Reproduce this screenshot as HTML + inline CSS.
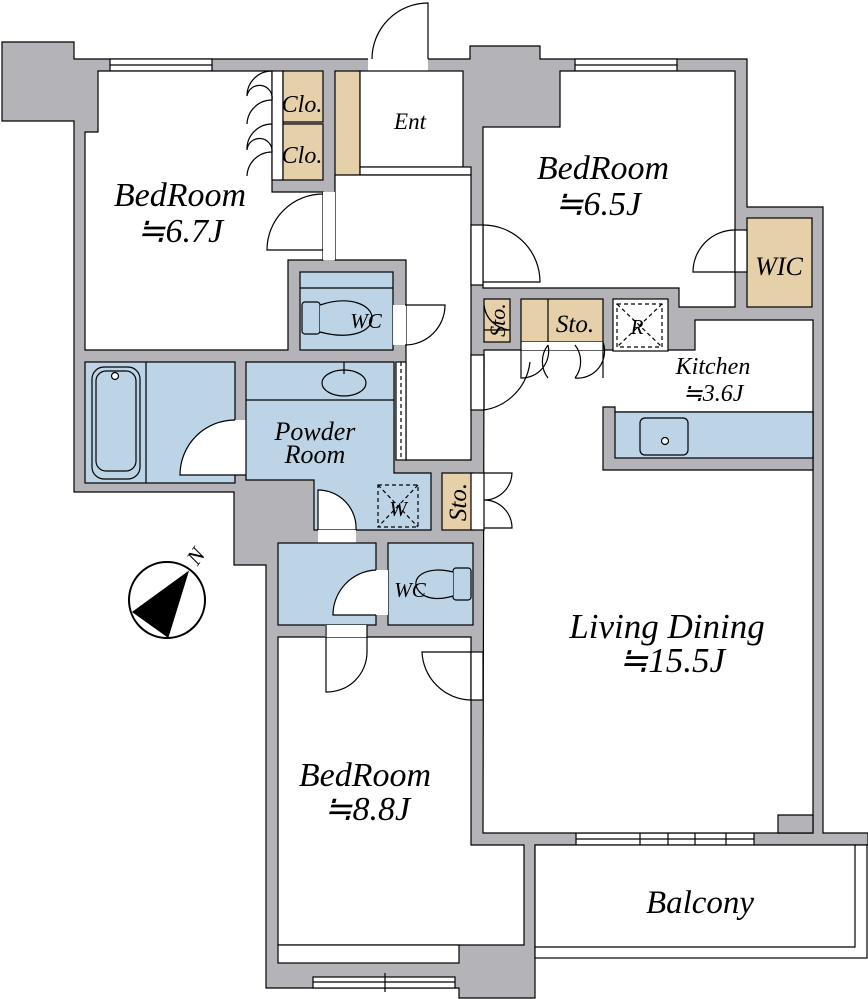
<!DOCTYPE html>
<html><head><meta charset="utf-8"><style>
html,body{margin:0;padding:0;background:#fff;}
svg{display:block;}
text{font-family:"Liberation Serif",serif;font-style:italic;fill:#000;}
</style></head><body>
<svg width="868" height="999" viewBox="0 0 868 999" xmlns="http://www.w3.org/2000/svg">
<g stroke="#000" stroke-width="1.2">
<polygon fill="#b4b3b8" points="2,42 74,42 74,59 470,59 470,46 540,46 540,59 747,59 747,207 823,207 823,833 868,833 868,845 535,845 535,998 459,998 459,988 266,988 266,565 234,565 234,492 74,492 74,121 2,121"/>
<rect x="110" y="59" width="102" height="12" fill="#fff"/><line x1="110" y1="65" x2="212" y2="65"/>
<rect x="575" y="59" width="102" height="12" fill="#fff"/><line x1="575" y1="65" x2="677" y2="65"/>
<rect x="576" y="833" width="178" height="12" fill="#fff"/><line x1="576" y1="839" x2="754" y2="839"/><line x1="640" y1="833" x2="640" y2="845"/><line x1="695" y1="833" x2="695" y2="845"/>
<line x1="668" y1="830" x2="668" y2="848"/><line x1="726" y1="830" x2="726" y2="848"/>
<rect x="313" y="977" width="142" height="11" fill="#fff"/><line x1="313" y1="982" x2="455" y2="982"/><line x1="385" y1="973" x2="385" y2="992"/>
<rect x="368" y="58" width="60" height="13" fill="#fff" stroke="none"/>
<path d="M372,59 A56,56 0 0 1 428,3 L428,59" fill="none"/>
<polygon fill="#fff" points="98,71 272,71 272,192 323,192 323,260 288,260 288,350 85,350 85,132 98,132"/>
<rect x="272" y="71" width="11" height="109" fill="#fff"/>
<rect x="283" y="71" width="40" height="51" fill="#e6d0aa"/>
<rect x="283" y="124" width="40" height="56" fill="#e6d0aa"/>
<path d="M272,71 A25,25 0 0 0 247,96 A10,10 0 0 1 272,100 A25,25 0 0 0 247,124 M272,124 A25,25 0 0 0 247,150 A10,10 0 0 1 272,152 A25,25 0 0 0 247,176" fill="none"/>
<rect x="335" y="71" width="25" height="118" fill="#e6d0aa"/>
<rect x="360" y="71" width="103" height="96" fill="#fff"/>
<rect x="360" y="167" width="111" height="8" fill="#fff"/>
<polygon fill="#fff" points="335,175 471,175 471,460 406,460 406,260 335,260"/>
<rect x="323" y="192" width="12" height="68" fill="#fff" stroke="none"/>
<path d="M323,194 A56,56 0 0 0 267,250 L323,250" fill="none"/>
<rect x="300" y="272" width="93" height="78" fill="#bcd4e6"/>
<line x1="300" y1="288" x2="393" y2="288"/>
<rect x="302" y="302" width="18" height="32" rx="3" fill="#bcd4e6"/>
<path d="M320,305 C350,295 372,305 372,318 C372,332 350,340 320,332" fill="#bcd4e6"/>
<rect x="393" y="305" width="13" height="40" fill="#fff" stroke="none"/>
<path d="M405,305 L445,305 A40,40 0 0 1 405,345" fill="none"/>
<rect x="85" y="362" width="150" height="121" fill="#bcd4e6"/>
<line x1="146" y1="362" x2="146" y2="483"/>
<rect x="92" y="367" width="48" height="112" rx="12" fill="#bcd4e6"/>
<rect x="96" y="371" width="40" height="100" rx="10" fill="#bcd4e6"/>
<circle cx="115" cy="376" r="3.5" fill="#fff"/>
<rect x="235" y="420" width="12" height="55" fill="#fff" stroke="none"/>
<path d="M235,420 A55,55 0 0 0 180,475 L247,475" fill="#fff"/>
<polygon fill="#bcd4e6" points="246,362 394,362 394,473 431,473 431,530 314,530 314,480 246,480"/>
<line x1="246" y1="400" x2="394" y2="400"/>
<ellipse cx="344" cy="383" rx="22" ry="13" fill="#bcd4e6"/>
<line x1="344" y1="362" x2="344" y2="374"/>
<rect x="396" y="362" width="10" height="98" fill="#fff"/>
<line x1="401" y1="362" x2="401" y2="460" stroke-dasharray="4,3"/>
<rect x="378" y="485" width="40" height="42" fill="#bcd4e6" stroke-dasharray="4,3"/>
<line x1="378" y1="485" x2="418" y2="527" stroke-dasharray="4,3"/><line x1="418" y1="485" x2="378" y2="527" stroke-dasharray="4,3"/>
<rect x="442" y="473" width="31" height="57" fill="#e6d0aa"/>
<path d="M318,490 A38,38 0 0 1 356,530 L318,530 Z" fill="#fff"/>
<rect x="318" y="530" width="38" height="13" fill="#fff" stroke="none"/>
<rect x="278" y="543" width="98" height="82" fill="#bcd4e6"/>
<rect x="388" y="543" width="85" height="82" fill="#bcd4e6"/>
<path d="M376,570 A45,45 0 0 0 333,615 L376,615" fill="#fff"/>
<rect x="376" y="570" width="12" height="45" fill="#fff" stroke="none"/>
<rect x="453" y="568" width="18" height="32" rx="3" fill="#bcd4e6"/>
<path d="M453,572 C425,565 410,578 418,590 C425,600 440,600 453,596" fill="#bcd4e6"/>
<polygon fill="#fff" points="278,637 471,637 471,845 524,845 524,945 278,945"/>
<rect x="278" y="945" width="181" height="18" fill="#fff"/>
<rect x="325" y="625" width="42" height="12" fill="#fff" stroke="none"/>
<path d="M326,625 L326,692 A40,40 0 0 0 367,652 L367,625" fill="none"/>
<path d="M471,652 L422,652 A50,50 0 0 0 471,700" fill="none"/>
<rect x="471" y="652" width="12" height="48" fill="#fff"/>
<polygon fill="#fff" points="560,71 735,71 735,307 679,307 679,288 483,288 483,127 560,127"/>
<rect x="747" y="218" width="65" height="89" fill="#e6d0aa"/>
<rect x="735" y="230" width="12" height="42" fill="#fff"/>
<path d="M735,230 A42,42 0 0 0 693,272 L735,272" fill="none"/>
<rect x="471" y="225" width="12" height="60" fill="#fff"/>
<path d="M483,225 A57,57 0 0 1 540,282 L483,282" fill="none"/>
<polygon fill="#fff" points="484,350 695,350 695,320 813,320 813,833 483,833"/>
<polygon fill="#b4b3b8" points="603,407 615,407 615,412 813,412 813,470 603,470"/>
<rect x="615" y="412" width="198" height="46" fill="#bcd4e6"/>
<rect x="640" y="418" width="48" height="37" rx="5" fill="#bcd4e6"/>
<circle cx="665" cy="441" r="3.5" fill="#fff"/>
<polygon fill="#b4b3b8" points="778,833 778,815 813,815 813,833"/>
<rect x="484" y="299" width="26" height="43" fill="#e6d0aa"/>
<rect x="521" y="299" width="82" height="43" fill="#e6d0aa"/><line x1="548" y1="299" x2="548" y2="342"/>
<rect x="613" y="299" width="55" height="52" fill="#fff"/>
<rect x="617" y="304" width="45" height="43" fill="none" stroke-dasharray="4,3"/>
<line x1="617" y1="304" x2="662" y2="347" stroke-dasharray="4,3"/><line x1="662" y1="304" x2="617" y2="347" stroke-dasharray="4,3"/>
<rect x="521" y="342" width="82" height="8" fill="#fff" stroke="none"/>
<path d="M521,342 L521,378 A27,27 0 0 0 548,345 M548,378 A27,27 0 0 1 548,345 M575,378 A27,27 0 0 0 575,345 M603,378 L603,342 A27,27 0 0 1 575,378" fill="none"/>
<rect x="471" y="355" width="13" height="55" fill="#fff"/>
<path d="M484,355 L484,410 A55,55 0 0 0 530,362" fill="none"/>
<path d="M484,305 A28,28 0 0 0 510,330 L484,330" fill="none"/>
<rect x="471" y="473" width="13" height="57" fill="#fff"/>
<path d="M484,473 L512,473 A28,28 0 0 1 484,500 A28,28 0 0 1 512,528 L484,528" fill="none"/>
<rect x="535" y="845" width="332" height="113" fill="#fff"/>
<polyline points="535,947 855,947 855,845" fill="none"/>
<circle cx="167" cy="600" r="38" fill="#fff" stroke-width="2"/>
<polygon points="188,572 133,612 168,637" fill="#000"/>
</g>
<text x="188" y="562" font-size="22" transform="rotate(-55 197 555)">N</text>
<text x="180" y="206" font-size="34" text-anchor="middle">BedRoom</text>
<text x="180" y="242" font-size="34" text-anchor="middle">≒6.7J</text>
<text x="603" y="179" font-size="34" text-anchor="middle">BedRoom</text>
<text x="598" y="215" font-size="34" text-anchor="middle">≒6.5J</text>
<text x="365" y="786" font-size="34" text-anchor="middle">BedRoom</text>
<text x="367" y="820" font-size="34" text-anchor="middle">≒8.8J</text>
<text x="667" y="638" font-size="35" text-anchor="middle">Living Dining</text>
<text x="672" y="672" font-size="35" text-anchor="middle">≒15.5J</text>
<text x="700" y="913" font-size="33" text-anchor="middle">Balcony</text>
<text x="410" y="129" font-size="23" text-anchor="middle">Ent</text>
<text x="302" y="112" font-size="24" text-anchor="middle">Clo.</text>
<text x="302" y="163" font-size="24" text-anchor="middle">Clo.</text>
<text x="366" y="328" font-size="21" text-anchor="middle">WC</text>
<text x="410" y="597" font-size="21" text-anchor="middle">WC</text>
<text x="315" y="440" font-size="26" text-anchor="middle">Powder</text>
<text x="315" y="463" font-size="26" text-anchor="middle">Room</text>
<text x="398" y="516" font-size="21" text-anchor="middle">W</text>
<text x="637" y="334" font-size="21" text-anchor="middle">R</text>
<text x="575" y="332" font-size="25" text-anchor="middle">Sto.</text>
<text x="0" y="0" font-size="22" text-anchor="middle" transform="translate(505,320) rotate(-90)">Sto.</text>
<text x="0" y="0" font-size="25" text-anchor="middle" transform="translate(466,502) rotate(-90)">Sto.</text>
<text x="779" y="275" font-size="26" text-anchor="middle">WIC</text>
<text x="713" y="374" font-size="24" text-anchor="middle">Kitchen</text>
<text x="713" y="401" font-size="24" text-anchor="middle">≒3.6J</text>
</svg>
</body></html>
